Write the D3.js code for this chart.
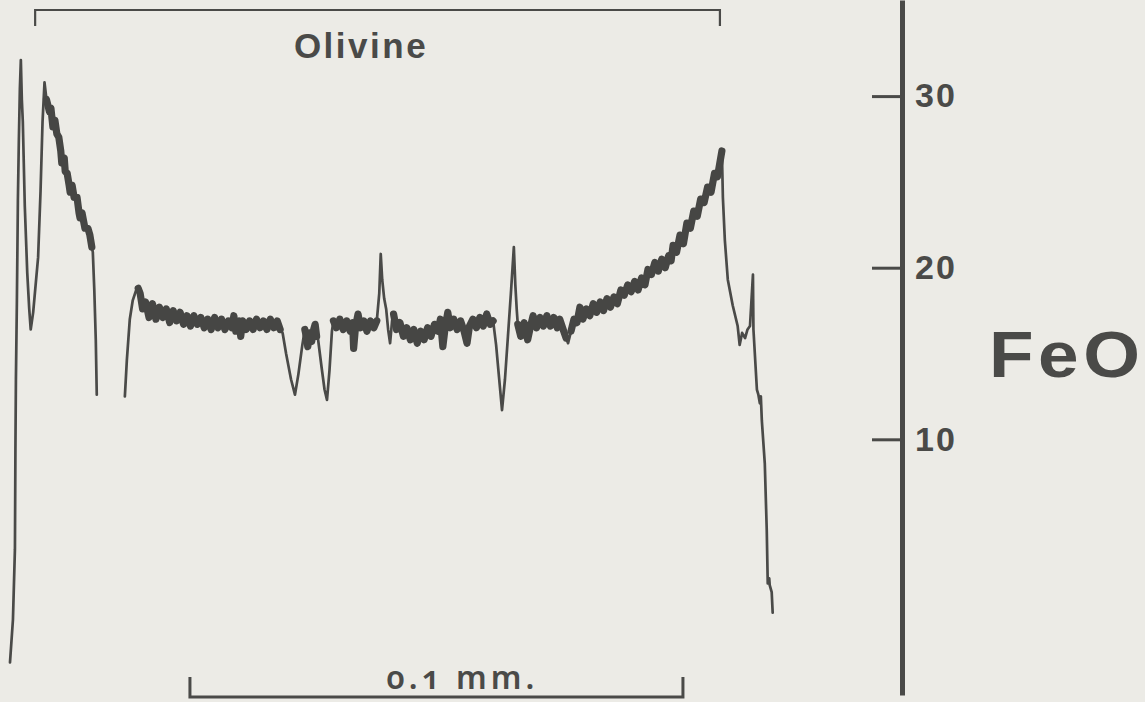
<!DOCTYPE html>
<html>
<head>
<meta charset="utf-8">
<script src="https://cdn.jsdelivr.net/npm/d3@7"></script>
<style>
  html, body { margin: 0; padding: 0; background: #ecebe6; }
  svg { display: block; }
</style>
</head>
<body>
<svg id="chart" width="1145" height="702"></svg>
<script>
// Microprobe traverse across an olivine grain: FeO (wt%) against distance (µm).

// Left grain edge (first pass of the beam)
const traceLeft = [
  [0.0,-3.0],[0.6,-0.5],[1.0,3.6],[1.1,9.4],[1.2,13.5],[1.4,18.1],[1.6,23.9],[1.8,27.5],
  [2.0,30.4],[2.2,32.1],[2.4,29.8],[2.6,28.5],[3.0,23.6],[3.5,19.7],[3.9,17.6],[4.2,16.4],
  [4.7,17.4],[5.7,20.6],[6.2,24.5],[6.6,28.5],[7.0,30.8],[7.4,29.8],[8.0,29.1],[8.3,29.3],
  [8.7,28.2],[9.1,28.6],[9.5,27.8],[9.9,27.6],[10.3,26.8],[10.5,26.1],[11.0,26.4],[11.2,25.6],
  [11.6,25.5],[12.0,24.8],[12.2,24.4],[12.6,24.8],[13.0,24.1],[13.6,24.1],[14.0,23.2],[14.2,22.9],
  [14.6,23.2],[15.2,22.3],[15.8,22.3],[16.2,21.9],[16.6,21.2],[16.8,20.9],[17.1,18.7],[17.4,15.8],
  [17.6,12.6]
];

// Main olivine traverse
const traceMain = [
  [23.3,12.5],[23.7,14.6],[24.3,17.0],[24.9,18.1],[25.6,18.7],[26.0,18.8],
  [26.4,18.5],[26.9,17.6],[27.5,18.0],[28.2,17.1],[28.9,17.9],[29.6,17.0],[30.3,17.7],[31.0,17.1],
  [31.7,17.6],[32.4,16.8],[33.1,17.5],[33.8,16.9],[34.5,17.4],[35.2,16.7],[35.9,17.2],[36.6,16.6],
  [37.3,17.2],[38.0,16.7],[38.7,17.1],[39.4,16.5],[40.1,17.0],[40.8,16.4],[41.5,17.1],[42.2,16.5],
  [42.9,17.0],[43.6,16.4],[44.3,16.9],[45.0,16.5],[45.4,17.2],[45.8,16.3],[46.5,16.9],[46.8,16.0],
  [47.2,16.9],[47.9,16.4],[48.6,16.9],[49.3,16.4],[50.0,17.0],[50.7,16.5],[51.4,16.9],[52.1,16.4],
  [52.8,17.0],[53.5,16.5],[54.2,16.9],[54.8,16.4],
  [55.3,16.2],[56.0,15.0],[57.0,13.5],[57.8,12.6],[58.5,13.8],[59.3,15.5],[59.8,16.4],[60.1,16.0],
  [60.4,15.4],[60.8,16.2],[61.2,15.7],[61.6,16.4],[61.9,16.7],[62.2,16.0],[62.5,15.8],[63.2,14.2],
  [63.8,12.9],[64.3,12.3],[64.8,14.0],[65.3,16.3],[65.6,16.9],
  [66.2,16.5],[66.9,17.0],[67.6,16.4],[68.3,16.9],[69.0,16.3],[69.5,16.8],[69.7,15.3],[70.1,16.6],
  [70.6,17.3],[71.1,16.5],[71.8,16.9],[72.4,16.3],[73.1,16.9],[73.8,16.5],[74.4,16.9],
  [74.9,18.5],[75.2,20.8],[75.5,19.3],[75.9,18.2],[76.3,17.6],[76.7,16.4],[77.1,15.6],[77.5,16.9],
  [77.8,17.3],
  [78.4,16.4],[79.1,16.8],[79.8,16.0],[80.5,16.5],[81.2,15.8],[81.9,16.4],[82.6,15.6],[83.3,16.3],
  [84.0,15.8],[84.7,16.5],[85.4,16.0],[86.1,16.7],[86.8,16.3],[87.3,17.0],[87.8,15.4],[88.3,16.6],
  [88.8,17.4],[89.3,16.5],[90.0,17.0],[90.7,16.4],[91.4,16.9],[92.1,16.3],[92.7,15.6],[93.2,16.6],
  [93.9,17.0],[94.6,16.5],[95.3,17.1],[96.0,16.6],[96.7,17.3],[97.4,16.7],[98.0,16.9],
  [98.6,15.5],[99.2,13.6],[99.8,11.7],[100.4,13.5],[101.0,16.0],[101.6,18.5],[102.2,21.2],[102.5,19.0],
  [102.8,17.5],[103.0,16.7],
  [103.6,16.0],[104.3,16.8],[105.0,15.8],[105.6,16.6],[106.1,17.2],[106.8,16.5],[107.5,17.1],[108.2,16.6],
  [108.9,17.2],[109.6,16.6],[110.3,17.1],[111.0,16.5],[111.5,17.0],[112.2,16.4],[112.8,15.9],[113.2,15.6],
  [113.8,16.3],[114.4,17.0],[115.0,16.8],[115.6,17.7],
  [116.2,17.0],[116.9,17.6],[117.6,17.2],[118.3,17.9],[119.0,17.4],[119.7,18.0],[120.4,17.5],[121.1,18.2],
  [121.8,17.7],[122.5,18.3],[123.2,17.9],[123.9,18.7],[124.6,18.4],[125.3,19.0],[126.0,18.6],[126.7,19.2],
  [127.4,18.7],[128.1,19.4],[128.8,19.0],[129.4,19.9],[130.1,19.6],[130.8,20.3],[131.5,19.8],[132.2,20.5],
  [132.9,20.0],[133.6,20.7],[134.1,20.4],[134.5,21.3],[135.2,20.9],[135.9,21.9],[136.6,21.4],[137.3,22.6],
  [138.0,22.3],[138.7,23.3],[139.4,23.0],[140.1,24.0],[140.8,23.8],[141.5,24.7],[142.2,24.4],[142.9,25.5],
  [143.5,25.3],[144.1,26.3],[144.4,26.8],
  [144.6,24.1],[145.0,21.6],[145.6,19.3],[146.6,17.8],[147.6,16.6],[148.0,15.5],[148.5,16.2],[149.1,15.9],
  [149.6,16.4],[150.1,16.6],[150.7,19.6],[150.8,16.4],[151.5,12.9],[151.8,12.6],[152.1,12.1],[152.3,12.5],
  [152.5,11.1],[153.1,8.6],[153.5,4.7],[153.7,1.6],[154.0,1.9],[154.1,1.5],[154.5,1.1],[154.7,-0.1]
];

// Stretches (µm) where the counting noise widens the trace into a band
const noisySpans = [[7.4, 16.6], [26.0, 55.0], [59.8, 62.3], [65.5, 74.5], [77.7, 98.1], [103.0, 112.9], [113.8, 144.4]];

// FeO axis ticks
const feoTicks = [10, 20, 30];
const axisTitle = "FeO";

// Olivine grain extent (µm) and its label
const olivineSpan = [5.1, 144.0];
const olivineLabel = "Olivine";

// Scale bar: 0.1 mm
const scaleBarStart = 36.5;   // µm
const scaleBarLength = 100;   // µm
const scaleBarLabel = "0.1 mm.";

const ink = "#4a4a48";
const bandInk = "#464644";
const svg = d3.select("#chart");

const x = d3.scaleLinear().domain([0, 100]).range([10, 503]);
const y = d3.scaleLinear().domain([-4.9, 35.6]).range([695, 0]);

const line = d3.line().x(d => x(d[0])).y(d => y(d[1]));

// Traces: thin pen line, then the noisy stretches drawn broader
[traceLeft, traceMain].forEach(t => {
  svg.append("path")
    .datum(t)
    .attr("d", line)
    .attr("fill", "none")
    .attr("stroke", ink)
    .attr("stroke-width", 2.7)
    .attr("stroke-linejoin", "round")
    .attr("stroke-linecap", "round");
});
noisySpans.forEach(([a, b]) => {
  const pts = traceLeft.concat(traceMain).filter(d => d[0] >= a && d[0] <= b);
  svg.append("path")
    .datum(pts)
    .attr("d", line)
    .attr("fill", "none")
    .attr("stroke", bandInk)
    .attr("stroke-width", 7.2)
    .attr("stroke-linejoin", "round")
    .attr("stroke-linecap", "round");
});

// FeO axis on the right
const axisX = 902;
const yAxis = d3.axisRight(y)
  .tickValues(feoTicks)
  .tickSizeInner(-30)
  .tickSizeOuter(0)
  .tickPadding(13)
  .tickFormat(d3.format("d"));

const gAxis = svg.append("g")
  .attr("transform", `translate(${axisX},0)`)
  .call(yAxis);
gAxis.select(".domain").attr("stroke", ink).attr("stroke-width", 5);
gAxis.selectAll(".tick line").attr("stroke", ink).attr("stroke-width", 3);
gAxis.selectAll(".tick text")
  .attr("fill", ink)
  .attr("font-family", "'Liberation Sans', Arial, sans-serif")
  .attr("font-weight", "bold")
  .attr("font-size", 34)
  .attr("letter-spacing", 2);

svg.append("text")
  .attr("transform", "translate(989,377) scale(1.14,1)")
  .attr("fill", ink)
  .attr("font-family", "'Liberation Sans', Arial, sans-serif")
  .attr("font-weight", "bold")
  .attr("font-size", 64)
  .attr("letter-spacing", 4)
  .text(axisTitle);

// Olivine bracket
const bTop = 10, bTick = 26;
svg.append("path")
  .attr("d", `M${x(olivineSpan[0])},${bTick}V${bTop}H${x(olivineSpan[1])}V${bTick}`)
  .attr("fill", "none")
  .attr("stroke", ink)
  .attr("stroke-width", 2.2);
svg.append("text")
  .attr("x", 361)
  .attr("y", 58)
  .attr("text-anchor", "middle")
  .attr("fill", ink)
  .attr("font-family", "'Liberation Sans', Arial, sans-serif")
  .attr("font-weight", "bold")
  .attr("font-size", 35)
  .attr("letter-spacing", 2.5)
  .text(olivineLabel);

// Scale bar
const sbY = 697, sbTick = 677;
svg.append("path")
  .attr("d", `M${x(scaleBarStart)},${sbTick}V${sbY}H${x(scaleBarStart + scaleBarLength)}V${sbTick}`)
  .attr("fill", "none")
  .attr("stroke", ink)
  .attr("stroke-width", 3);
svg.append("text")
  .attr("x", (x(scaleBarStart) + x(scaleBarStart + scaleBarLength)) / 2 + 26)
  .attr("y", 689)
  .attr("text-anchor", "middle")
  .attr("fill", ink)
  .attr("font-family", "'Noto Sans', 'Open Sans', sans-serif")
  .attr("font-weight", 600)
  .attr("font-size", 32)
  .attr("letter-spacing", 4)
  .style("font-variant-numeric", "oldstyle-nums")
  .text(scaleBarLabel);
</script>
</body>
</html>
